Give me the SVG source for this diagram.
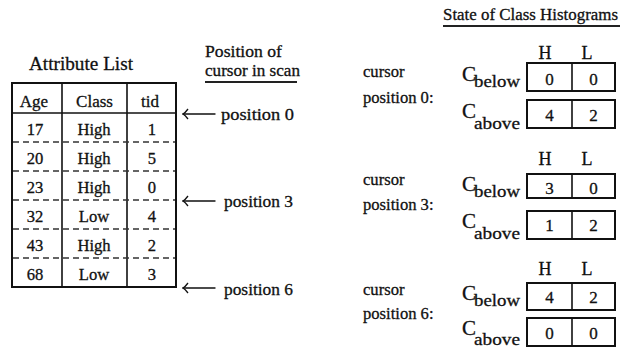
<svg xmlns="http://www.w3.org/2000/svg" width="621" height="349" viewBox="0 0 621 349" font-family="'Liberation Serif', 'DejaVu Serif', serif">
  <defs>
    <style>
      text { font-family: "Liberation Serif", "DejaVu Serif", serif; fill: #111; stroke: #111; stroke-width: 0.3; }
      .title { font-size: 19px; }
      .head { font-size: 17px; text-anchor: middle; }
      .cell { font-size: 16.6px; text-anchor: middle; }
      .lbl { font-size: 16.6px; }
      .hl { font-size: 18px; text-anchor: middle; }
      .cap { font-size: 21px; }
      .sub { font-size: 17px; }
      .num { font-size: 17px; text-anchor: middle; }
      .frame { fill: none; stroke: #111; stroke-width: 2; }
      .rule { stroke: #111; stroke-width: 1.6; fill: none; }
      .dash { stroke: #333; stroke-width: 1.5; stroke-dasharray: 6 4; fill: none; }
      .arrow { stroke: #111; stroke-width: 1.4; fill: none; stroke-linecap: round; }
      .under { stroke: #222; stroke-width: 1.8; }
    </style>
    <!-- open, slightly curved barb of a long left arrow -->
    <marker id="barb" viewBox="0 0 10 12" refX="9" refY="6" markerWidth="10" markerHeight="12" markerUnits="userSpaceOnUse" orient="auto">
      <path d="M4,1 Q7,5 9,6 Q7,7 4,11" fill="none" stroke="#111" stroke-width="1.3"/>
    </marker>
  </defs>

  <!-- Attribute list table -->
  <g id="attribute-list">
    <text class="title" x="29" y="70" textLength="104" lengthAdjust="spacingAndGlyphs">Attribute List</text>
    <rect class="frame" x="12" y="83" width="164" height="204"/>
    <line class="rule" x1="12" y1="113" x2="176" y2="113"/>
    <line class="rule" x1="62" y1="83" x2="62" y2="287"/>
    <line class="rule" x1="127" y1="83" x2="127" y2="287"/>
    <line class="dash" x1="13" y1="142" x2="175" y2="142"/>
    <line class="dash" x1="13" y1="171" x2="175" y2="171"/>
    <line class="dash" x1="13" y1="200" x2="175" y2="200"/>
    <line class="dash" x1="13" y1="229" x2="175" y2="229"/>
    <line class="dash" x1="13" y1="258" x2="175" y2="258"/>
    <text class="head" x="34" y="107">Age</text>
    <text class="head" x="94.5" y="107">Class</text>
    <text class="head" x="150" y="107">tid</text>
    <text class="cell" x="35" y="135">17</text><text class="cell" x="94" y="135">High</text><text class="cell" x="152" y="135">1</text>
    <text class="cell" x="35" y="164">20</text><text class="cell" x="94" y="164">High</text><text class="cell" x="152" y="164">5</text>
    <text class="cell" x="35" y="193">23</text><text class="cell" x="94" y="193">High</text><text class="cell" x="152" y="193">0</text>
    <text class="cell" x="35" y="222">32</text><text class="cell" x="94" y="222">Low</text><text class="cell" x="152" y="222">4</text>
    <text class="cell" x="35" y="251">43</text><text class="cell" x="94" y="251">High</text><text class="cell" x="152" y="251">2</text>
    <text class="cell" x="35" y="280">68</text><text class="cell" x="94" y="280">Low</text><text class="cell" x="152" y="280">3</text>
  </g>

  <!-- Scan cursor column -->
  <g id="cursor-positions">
    <text class="lbl" x="205" y="57" textLength="77" lengthAdjust="spacingAndGlyphs">Position of</text>
    <text class="lbl" x="205" y="76" textLength="95" lengthAdjust="spacingAndGlyphs">cursor in scan</text>
    <line class="under" x1="205" y1="82" x2="297" y2="82"/>
    <text class="lbl" x="221" y="120" textLength="73" lengthAdjust="spacingAndGlyphs">position 0</text>
    <text class="lbl" x="224" y="207" textLength="69" lengthAdjust="spacingAndGlyphs">position 3</text>
    <text class="lbl" x="224" y="295" textLength="69" lengthAdjust="spacingAndGlyphs">position 6</text>
  </g>

  <!-- Arrows from cursor labels to row boundaries -->
  <g id="connectors">
    <line class="arrow" x1="215" y1="114" x2="183" y2="114" marker-end="url(#barb)"/>
    <line class="arrow" x1="215" y1="201" x2="183" y2="201" marker-end="url(#barb)"/>
    <line class="arrow" x1="215" y1="288" x2="183" y2="288" marker-end="url(#barb)"/>
  </g>

  <!-- Histogram title -->
  <g id="histogram-title">
    <text class="lbl" x="443" y="20" font-size="17" textLength="175" lengthAdjust="spacingAndGlyphs">State of Class Histograms</text>
    <line class="under" x1="443" y1="26" x2="620" y2="26"/>
  </g>

  <!-- Histogram state at cursor position 0 -->
  <g id="histograms-position-0">
    <text class="lbl" x="363" y="77">cursor</text>
    <text class="lbl" x="363" y="103">position 0:</text>
    <text class="hl" x="545" y="59">H</text>
    <text class="hl" x="587" y="59">L</text>
    <text class="cap" x="462" y="81">C</text><text class="sub" x="474" y="87" textLength="46" lengthAdjust="spacingAndGlyphs">below</text>
    <rect class="frame" x="527" y="63" width="88" height="28"/>
    <line class="rule" x1="572" y1="63" x2="572" y2="91"/>
    <text class="num" x="549.5" y="85">0</text><text class="num" x="593.5" y="85">0</text>
    <text class="cap" x="462" y="118">C</text><text class="sub" x="474" y="129" textLength="46" lengthAdjust="spacingAndGlyphs">above</text>
    <rect class="frame" x="527" y="100" width="88" height="28"/>
    <line class="rule" x1="572" y1="100" x2="572" y2="128"/>
    <text class="num" x="549.5" y="121">4</text><text class="num" x="593.5" y="121">2</text>
  </g>

  <!-- Histogram state at cursor position 3 -->
  <g id="histograms-position-3">
    <text class="lbl" x="363" y="185">cursor</text>
    <text class="lbl" x="363" y="210">position 3:</text>
    <text class="hl" x="545" y="165">H</text>
    <text class="hl" x="587" y="165">L</text>
    <text class="cap" x="462" y="191">C</text><text class="sub" x="474" y="197" textLength="46" lengthAdjust="spacingAndGlyphs">below</text>
    <rect class="frame" x="527" y="174" width="88" height="24"/>
    <line class="rule" x1="572" y1="174" x2="572" y2="198"/>
    <text class="num" x="549.5" y="194">3</text><text class="num" x="593.5" y="194">0</text>
    <text class="cap" x="462" y="228">C</text><text class="sub" x="474" y="239" textLength="46" lengthAdjust="spacingAndGlyphs">above</text>
    <rect class="frame" x="527" y="211" width="88" height="28"/>
    <line class="rule" x1="572" y1="211" x2="572" y2="239"/>
    <text class="num" x="549.5" y="231">1</text><text class="num" x="593.5" y="231">2</text>
  </g>

  <!-- Histogram state at cursor position 6 -->
  <g id="histograms-position-6">
    <text class="lbl" x="363" y="295">cursor</text>
    <text class="lbl" x="363" y="319">position 6:</text>
    <text class="hl" x="545" y="275">H</text>
    <text class="hl" x="587" y="275">L</text>
    <text class="cap" x="462" y="300">C</text><text class="sub" x="474" y="306" textLength="46" lengthAdjust="spacingAndGlyphs">below</text>
    <rect class="frame" x="527" y="283" width="88" height="27"/>
    <line class="rule" x1="572" y1="283" x2="572" y2="310"/>
    <text class="num" x="549.5" y="303">4</text><text class="num" x="593.5" y="303">2</text>
    <text class="cap" x="462" y="335">C</text><text class="sub" x="474" y="345" textLength="46" lengthAdjust="spacingAndGlyphs">above</text>
    <rect class="frame" x="527" y="318" width="88" height="28"/>
    <line class="rule" x1="572" y1="318" x2="572" y2="346"/>
    <text class="num" x="549.5" y="339">0</text><text class="num" x="593.5" y="339">0</text>
  </g>
</svg>
